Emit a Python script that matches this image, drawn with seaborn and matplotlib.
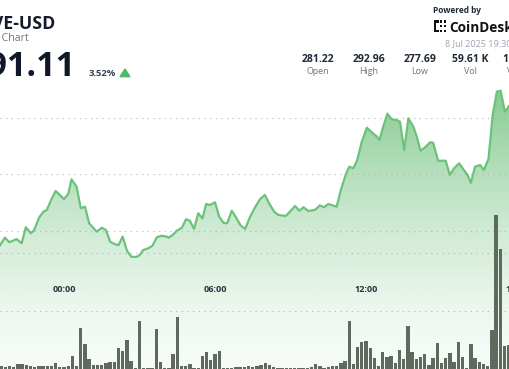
import numpy as np
import matplotlib
matplotlib.use("Agg")
import matplotlib.pyplot as plt
import seaborn as sns
from matplotlib.patches import Polygon, Rectangle
from matplotlib.transforms import blended_transform_factory

# ---------------- data ----------------
# price samples: minutes relative to 8 Jul 00:00
price_minutes = [-153, -141, -130, -113, -101, -91, -79, -71, -59, -49, -41, -29, -20, -10, 0, 10, 18, 30, 40, 50,
                 60, 78, 90, 100, 110, 122, 130, 140, 150, 160, 172, 180, 189, 201, 211, 221, 233, 245, 250, 261,
                 269, 281, 291, 300, 310, 320, 330, 339, 348, 360, 370, 380, 389, 400, 410, 421, 432,
                 443, 455, 467, 479, 489, 501, 511, 529, 540, 551, 561, 571, 582, 598, 610, 620, 630, 650, 660,
                 672, 680, 690, 699, 710, 722, 734, 746, 752, 761, 771, 781, 793, 801, 811, 821, 833, 841, 850,
                 861, 873, 880, 892, 910, 920, 930, 942, 952, 962, 970, 980, 992, 1001, 1012, 1022, 1032, 1041,
                 1051, 1063]
price_values = [278.70, 279.41, 279.00, 279.29, 278.91, 280.33, 279.80, 280.09, 281.21, 281.71, 281.86, 282.89,
                283.54, 283.19, 282.83, 283.27, 284.58, 283.92, 282.01, 282.15, 280.68, 279.94, 280.29, 280.09,
                279.05, 278.82, 278.76, 279.50, 278.26, 277.73, 277.70, 277.85, 278.32, 278.47, 278.70, 279.44,
                279.58, 279.50, 279.41, 279.71, 280.03, 280.29, 281.04, 280.91, 280.18, 281.57, 281.12, 282.39,
                282.30, 282.54, 281.27, 280.73, 280.68, 281.80, 281.21, 280.50, 280.18,
                281.21, 282.06, 282.81, 283.19, 282.45, 281.71, 281.42, 281.33, 281.77, 282.21, 281.80, 282.10,
                281.77, 281.86, 282.27, 282.10, 282.39, 282.15, 283.63, 285.02, 285.69, 285.55, 286.28, 287.90,
                289.14, 288.73, 288.35, 288.05, 289.23, 290.38, 289.89, 289.82, 289.67, 287.17, 289.97, 289.23,
                288.35, 287.11, 287.41, 287.85, 287.81, 286.22, 286.22, 284.96, 285.55, 285.99, 285.46, 284.96,
                284.27, 285.69, 285.84, 285.40, 286.37, 290.27, 292.33, 292.42, 290.56, 291.15]

# 10-minute volume bars
bar_minutes = list(range(-150, 1061, 10))
volumes = [52, 40, 57, 40, 81, 81, 64, 52, 40, 52,
           52, 52, 52, 98, 40, 40, 52, 224, 57, 702,
           426, 172, 69, 69, 69, 98, 126, 116, 357, 310,
           500, 138, 22, 833, 22, 22, 12, 690, 121, 12,
           22, 253, 891, 57, 57, 86, 22, 12, 219, 288,
           150, 253, 316, 12, 12, 12, 40, 29, 40, 52,
           40, 52, 69, 98, 69, 29, 22, 22, 22, 22,
           12, 22, 12, 12, 29, 86, 57, 12, 29, 52,
           57, 109, 143, 828, 86, 384, 471, 483, 367, 195,
           52, 288, 212, 229, 98, 328, 178, 741, 298, 167,
           212, 259, 69, 195, 443, 98, 184, 281, 116, 465,
           212, 22, 431, 184, 116, 86, 52, 672, 2655, 2064,
           402, 414]

tick_minutes = [0, 360, 720, 1080]
tick_labels = ["00:00", "06:00", "12:00", "18:00"]
price_grid = [280, 285, 290]
volume_grid = [1000, 2000]

stat_values = ["281.22", "292.96", "277.69", "59.61 K", "17.24 M"]
stat_labels = ["Open", "High", "Low", "Vol", "Vol USD"]

# ---------------- style ----------------
sns.set_style("white")
plt.rcParams['font.family'] = ['Open Sans', 'DejaVu Sans']

W, H = 510, 369
fig = plt.figure(figsize=(W / 100, H / 100), dpi=100)
fig.patch.set_facecolor("white")

XLIM = (-152.6, 1063.3)
PLIM = (267.788, 300.442)
VLIM = (0, 6362)

ax = fig.add_axes([0, 0, 1, 1], zorder=1)
axv = fig.add_axes([0, 0, 1, 1], zorder=2)
axv.patch.set_alpha(0)

# ---- price area with gradient ----
fill = ax.fill_between(price_minutes, price_values, PLIM[0], color="none", lw=0)
t = np.linspace(0, 1, 256)
alpha = 0.05 + 0.70 * t ** 1.5
grad = np.zeros((256, 1, 4))
grad[..., 0] = 92 / 255
grad[..., 1] = 185 / 255
grad[..., 2] = 107 / 255
grad[:, 0, 3] = alpha
img = ax.imshow(grad, extent=[XLIM[0], XLIM[1], PLIM[0], 292.6], origin="lower",
                aspect="auto", zorder=1, interpolation="bilinear")
img.set_clip_path(fill.get_paths()[0], transform=ax.transData)

sns.lineplot(x=price_minutes, y=price_values, ax=ax, color="#6cc27b", lw=1.6, zorder=4)

for g in price_grid:
    ax.axhline(g, color="#b4b4b4", lw=0.8, ls=(0, (1, 4.1)), zorder=3)

ax.set_xlim(*XLIM)
ax.set_ylim(*PLIM)
for s in ax.spines.values():
    s.set_visible(False)
ax.set_yticks([])
ax.set_xticks(tick_minutes[:3])
ax.set_xticklabels([])
ax.spines['bottom'].set_position(('axes', 94 / H))
ax.tick_params(axis='x', direction='out', length=1.2, width=1.0, colors="#9a9a9a")
ax.set_xlabel("")
ax.set_ylabel("")

trans = blended_transform_factory(ax.transData, ax.transAxes)
for m, lab in zip(tick_minutes, tick_labels):
    ax.text(m, 1 - 289 / H, lab, transform=trans, ha="center", va="center",
            fontsize=6.6, fontweight="bold", color="#2b3140", clip_on=False)

# ---- volume bars ----
for g in volume_grid:
    axv.axhline(g, color="#b4b4b4", lw=0.8, ls=(0, (1, 4.1)), zorder=0)
sns.barplot(x=bar_minutes, y=volumes, ax=axv, native_scale=True, color="#5f6a5f",
            saturation=1, width=0.8, linewidth=0, zorder=2)
axv.set_xlim(*XLIM)
axv.set_ylim(*VLIM)
axv.axis("off")

# ---------------- header ----------------
def T(x, y, s, **kw):
    return fig.text(x / W, 1 - y / H, s, **kw)

T(55, 29.3, "AAVE-USD", ha="right", va="baseline", fontsize=12.8, fontweight="bold", color="#141b2d")
T(28.5, 40.7, "Bar Chart", ha="right", va="baseline", fontsize=7.6, color="#6b7280")
T(76, 76, "291.11", ha="right", va="baseline", fontsize=24.5, fontweight="bold", color="#0f1729")
T(88.3, 75.7, "3.52%", ha="left", va="baseline", fontsize=6.8, fontweight="bold", color="#374151")
tri = Polygon([(120 / W, 1 - 76.7 / H), (130 / W, 1 - 76.7 / H), (125 / W, 1 - 69 / H)],
              closed=True, transform=fig.transFigure, color="#52b96c")
fig.patches.append(tri)

T(433.3, 13.3, "Powered by", ha="left", va="baseline", fontsize=6.0, fontweight="bold", color="#1f2937")
T(449.3, 31.7, "CoinDesk", ha="left", va="baseline", fontsize=9.8, fontweight="bold", color="#111111")
# logo icon
def R(x, y, w, h):
    fig.patches.append(Rectangle((x / W, 1 - (y + h) / H), w / W, h / H,
                                 transform=fig.transFigure, color="#111111", lw=0))
R(434, 20.5, 2.2, 11.5)
R(434, 20.5, 5, 2)
R(434, 30, 5, 2)
R(440.5, 20.5, 2, 2)
R(440.5, 30, 2, 2)
R(444.5, 20.5, 2, 2)
R(444.5, 25.2, 2, 2)
R(444.5, 30, 2, 2)
R(440.5, 25.2, 2, 2)

T(445, 46.3, "8 Jul 2025 19:30", ha="left", va="baseline", fontsize=6.5, color="#9ca3af")

stat_x = [318.3, 369, 420, 470.5, 523]
for x, v, l in zip(stat_x, stat_values, stat_labels):
    T(x, 62.3, v, ha="center", va="baseline", fontsize=7.5, fontweight="bold", color="#1f2937")
    T(x, 74, l, ha="center", va="baseline", fontsize=6.4, color="#6b7280")

fig.savefig("out.png", dpi=100)
